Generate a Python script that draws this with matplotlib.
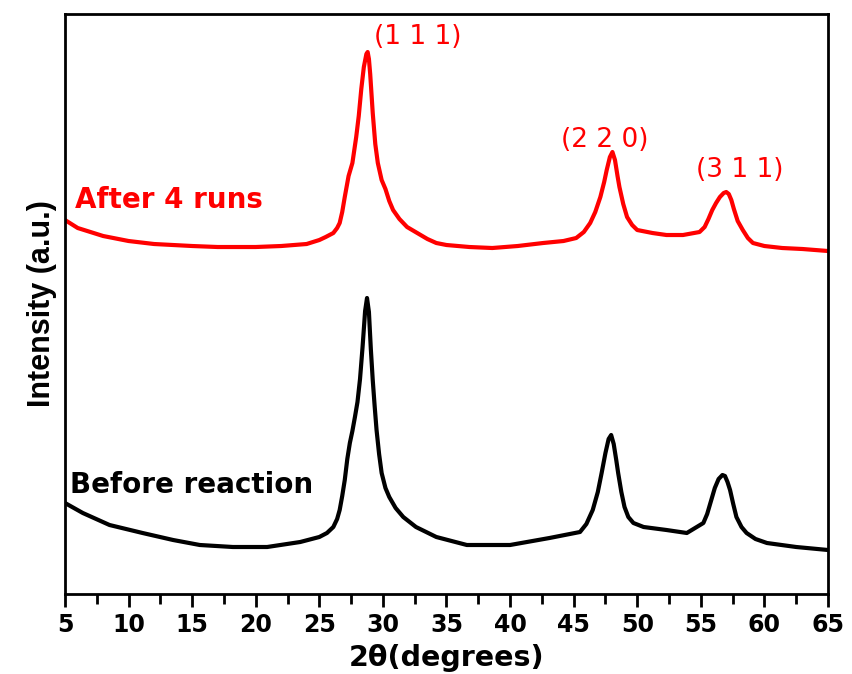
import matplotlib

matplotlib.use("Agg")
import matplotlib.pyplot as plt
from matplotlib.ticker import MultipleLocator

# 2theta positions (degrees) and intensities (a.u.)
AFTER_X = [5, 6, 8, 10, 12, 15, 17, 20, 22, 24, 25, 25.5, 26.1, 26.4, 26.6, 26.8,
           27.0, 27.3, 27.6, 27.9, 28.1, 28.3, 28.5, 28.7, 28.8, 28.9, 29.0, 29.2,
           29.4, 29.6, 29.9, 30.2, 30.5, 30.8, 31.3, 31.9, 32.7, 33.5, 34.2, 35,
           36.8, 38.6, 40.6, 42.6, 44.2, 45.2, 45.8, 46.3, 46.7, 47.1, 47.4, 47.6,
           47.85, 48.05, 48.25, 48.45, 48.6, 48.9, 49.2, 49.6, 50, 51.2, 52.3, 53.6,
           54.9, 55.3, 55.6, 55.9, 56.2, 56.5, 56.8, 57.0, 57.2, 57.4, 57.6, 57.9,
           58.3, 58.7, 59.1, 60, 61.4, 63, 65]
AFTER_Y = [374, 366, 358, 353, 350, 348, 347, 347, 348, 350, 354, 357, 361, 366, 371, 382,
           397, 418, 431, 457, 478, 505, 527, 540, 542, 535, 520, 481,
           450, 431, 414, 405, 393, 384, 375, 367, 361, 355, 351, 349,
           347, 346, 348, 351, 353, 356, 362, 371, 382, 397, 412, 424,
           437, 442, 434, 418, 407, 390, 377, 369, 364, 361, 359, 359,
           362, 367, 375, 384, 391, 397, 401, 402, 400, 394, 385, 373,
           364, 356, 351, 348, 346, 345, 343]

BEFORE_X = [5, 6.4, 8.5, 11.1, 13.5, 15.6, 18.2, 20.9, 23.5, 25, 25.6, 26.1, 26.4,
            26.6, 26.8, 27.0, 27.2, 27.4, 27.6, 27.8, 28.0, 28.2, 28.4, 28.6, 28.75,
            28.9, 29.05, 29.2, 29.35, 29.5, 29.7, 29.9, 30.2, 30.5, 31.0, 31.6, 32.6,
            34.2, 36.6, 40, 43.1, 45.5, 46.0, 46.5, 46.9, 47.2, 47.5, 47.75, 47.95,
            48.15, 48.35, 48.5, 48.75, 49.0, 49.3, 49.7, 50.5, 52.3, 53.9, 55.2,
            55.5, 55.8, 56.1, 56.4, 56.7, 56.9, 57.1, 57.3, 57.55, 57.8, 58.2, 58.6,
            59.3, 60.2, 62.5, 65]
BEFORE_Y = [91, 81, 69, 61, 54, 49, 47, 47, 52, 57, 61, 67, 75,
            84, 98, 114, 135, 151, 163, 177, 192, 215, 247, 283, 296,
            282, 245, 214, 188, 164, 140, 121, 106, 97, 86, 77, 67,
            57, 49, 49, 56, 62, 70, 84, 102, 121, 141, 155, 159,
            150, 134, 121, 102, 87, 77, 71, 67, 64, 61, 71,
            80, 93, 106, 115, 119, 118, 112, 104, 90, 77, 67, 61,
            55, 51, 47, 44]

PEAK_LABELS = ["(1 1 1)", "(2 2 0)", "(3 1 1)"]
PEAK_LABEL_X = [32.75, 47.45, 58.1]
PEAK_LABEL_Y = [557, 454, 424]

fig = plt.figure(figsize=(8.52, 6.74), dpi=100)
ax = fig.add_axes([0.0763, 0.1187, 0.8955, 0.8605])

ax.plot(AFTER_X, AFTER_Y, color="#ff0000", linewidth=3)
ax.plot(BEFORE_X, BEFORE_Y, color="black", linewidth=3)

ax.set_xlim(5, 65)
ax.set_ylim(0, 580)

ax.xaxis.set_major_locator(MultipleLocator(5))
ax.xaxis.set_minor_locator(MultipleLocator(2.5))
ax.tick_params(axis="x", which="major", direction="out", length=9, width=2,
               labelsize=17, pad=5)
ax.tick_params(axis="x", which="minor", direction="out", length=7, width=2)
ax.set_yticks([])
for label in ax.get_xticklabels():
    label.set_fontweight("bold")
    label.set_family("DejaVu Sans")
for spine in ax.spines.values():
    spine.set_linewidth(2)

ax.set_xlabel("2θ(degrees)", fontsize=20.5, fontweight="bold",
              family="DejaVu Sans", labelpad=5)
ax.set_ylabel("Intensity (a.u.)", fontsize=22, fontweight="bold",
              family="Liberation Sans", labelpad=6)

ax.text(5.8, 394, "After 4 runs", color="#ff0000", fontsize=20, fontweight="bold",
        family="DejaVu Sans", ha="left", va="center")
ax.text(5.4, 109, "Before reaction", color="black", fontsize=20, fontweight="bold",
        family="DejaVu Sans", ha="left", va="center")

for text, x, y in zip(PEAK_LABELS, PEAK_LABEL_X, PEAK_LABEL_Y):
    ax.text(x, y, text, color="#ff0000", fontsize=19, family="DejaVu Sans",
            ha="center", va="center")

fig.savefig("out.png", dpi=100)
